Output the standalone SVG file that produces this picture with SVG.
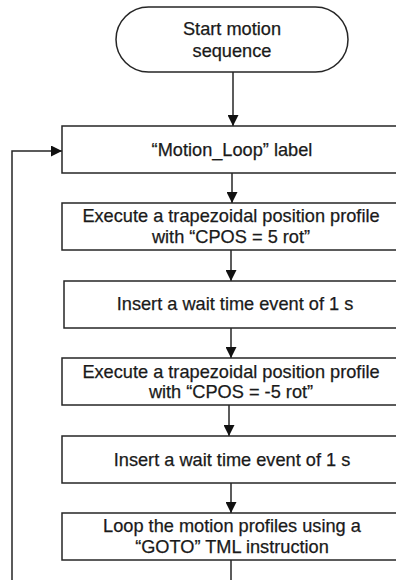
<svg xmlns="http://www.w3.org/2000/svg" width="396" height="580" viewBox="0 0 396 580">
<style>
.n{fill:#fff;stroke:#262626;stroke-width:1.5}
.t{font-family:"Liberation Sans",Arial,sans-serif;font-size:18.2px;fill:#1a1a1a;stroke:#1a1a1a;stroke-width:0.25;text-anchor:middle}
.c{fill:none;stroke:#262626;stroke-width:1.5}
</style>
<defs>
<marker id="ah" viewBox="0 0 11 11" refX="11" refY="5.5" markerWidth="11" markerHeight="11" markerUnits="userSpaceOnUse" orient="auto">
<path d="M0,0 L11,5.5 L0,11 Z" fill="#111"/>
</marker>
</defs>
<g id="connectors">
<line class="c" x1="233" y1="72" x2="233" y2="126" marker-end="url(#ah)"/>
<line class="c" x1="232" y1="173" x2="232" y2="203" marker-end="url(#ah)"/>
<line class="c" x1="231" y1="250" x2="231" y2="281" marker-end="url(#ah)"/>
<line class="c" x1="231" y1="328" x2="231" y2="358" marker-end="url(#ah)"/>
<line class="c" x1="229" y1="405" x2="229" y2="436" marker-end="url(#ah)"/>
<line class="c" x1="231" y1="483" x2="231" y2="513" marker-end="url(#ah)"/>
<polyline class="c" points="231,560 231,580"/>
<polyline class="c" points="12,580 12,151 62,151" marker-end="url(#ah)"/>
</g>
<g id="start">
<rect class="n" x="116" y="7" width="232" height="65" rx="32.5"/>
<text class="t" x="232" y="35">Start motion</text>
<text class="t" x="232" y="57">sequence</text>
</g>
<g id="loop-label">
<rect class="n" x="62" y="126" width="340" height="47"/>
<text class="t" x="232" y="156">“Motion_Loop” label</text>
</g>
<g id="pos5">
<rect class="n" x="62" y="203" width="340" height="47"/>
<text class="t" x="231" y="222">Execute a trapezoidal position profile</text>
<text class="t" x="231" y="243">with “CPOS = 5 rot”</text>
</g>
<g id="wait1">
<rect class="n" x="64" y="281" width="338" height="47"/>
<text class="t" x="235" y="310">Insert a wait time event of 1 s</text>
</g>
<g id="posm5">
<rect class="n" x="62" y="358" width="340" height="47"/>
<text class="t" x="231" y="378">Execute a trapezoidal position profile</text>
<text class="t" x="231" y="398">with “CPOS = -5 rot”</text>
</g>
<g id="wait2">
<rect class="n" x="62" y="436" width="340" height="47"/>
<text class="t" x="232" y="466">Insert a wait time event of 1 s</text>
</g>
<g id="goto">
<rect class="n" x="62" y="513" width="340" height="47"/>
<text class="t" x="232" y="532">Loop the motion profiles using a</text>
<text class="t" x="232" y="553">“GOTO” TML instruction</text>
</g>
</svg>
